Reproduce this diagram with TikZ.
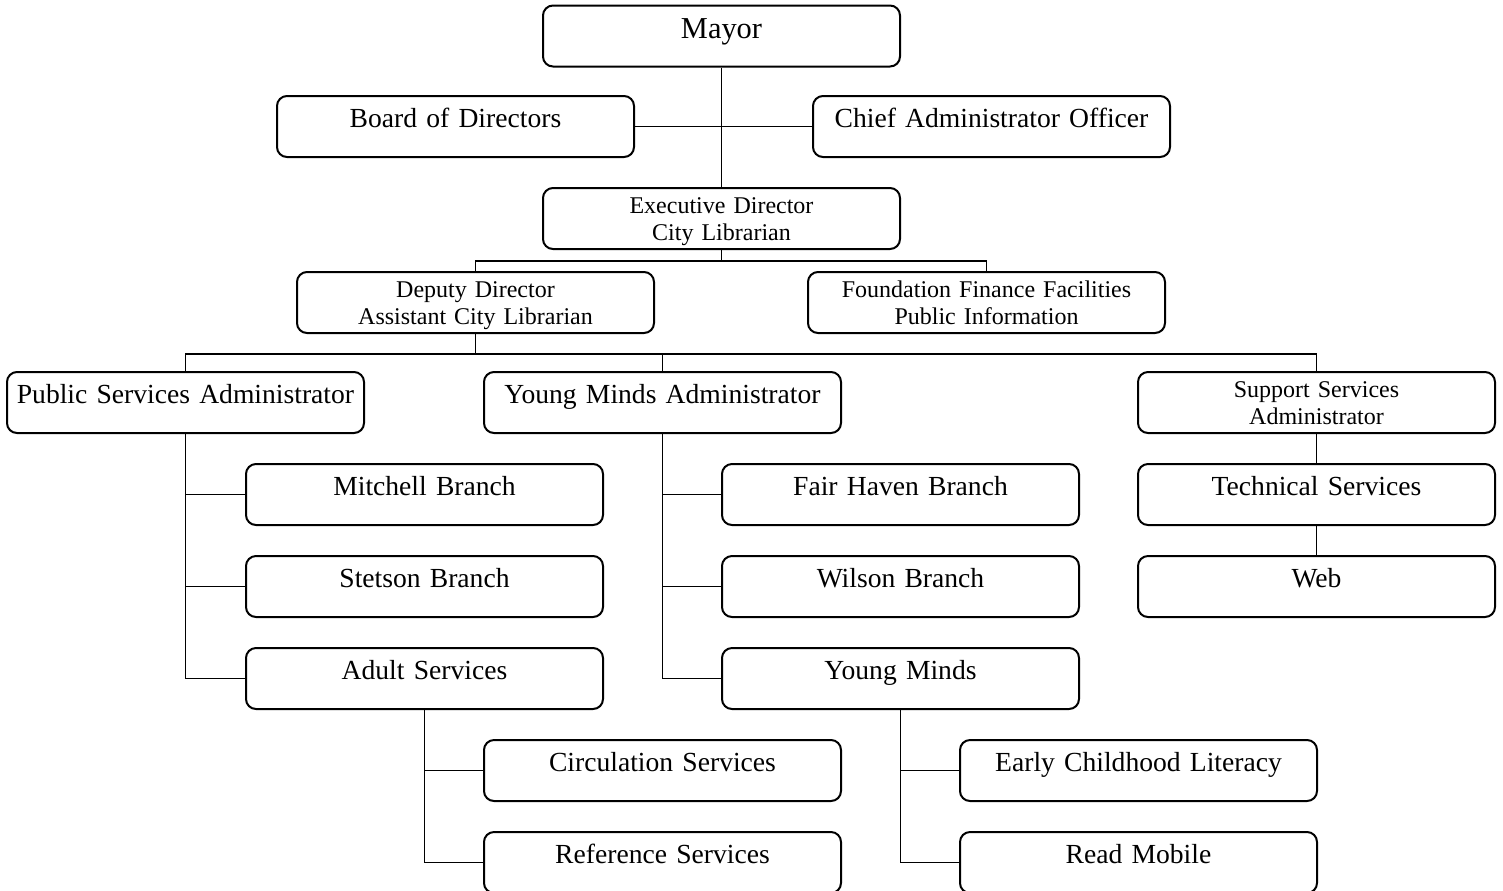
\documentclass[tikz,border=0pt]{standalone}
\usepackage{fontspec}
\setmainfont{Liberation Serif}
\tikzset{
	unit/.style={draw, line width=1pt, rounded corners=5pt, inner sep=0pt,
		text width=178.5pt, align=center, text height=15.5pt, text depth=15pt,
		font=\fontsize{13.8}{16}\selectfont},
	unitsmall/.style={unit, text height=12.5pt, text depth=18pt,
		font=\fontsize{12}{13.5}\selectfont},
	link/.style={line width=0.75pt}
}
\begin{document}
\begin{tikzpicture}[x=0.5pt,y=-0.5pt]
		\useasboundingbox (0,0) rectangle (1503,890);
		% top of the chart
		\node[unit, text height=16.5pt, text depth=14pt, font=\fontsize{15.2}{17}\selectfont] (mayor) at (721.5,36) {Mayor};
		\node[unit] (board) at (455.5,126.5) {Board of Directors};
		\node[unit] (chief) at (991.5,126.5) {Chief Administrator Officer};
		\node[unitsmall] (exec) at (721.5,218.5) {Executive Director\\City Librarian};
		\node[unitsmall] (deputy) at (475.5,302.5) {Deputy Director\\Assistant City Librarian};
		\node[unitsmall] (found) at (986.5,302.5) {Foundation Finance Facilities\\Public Information};
		% administrators
		\node[unit] (public) at (185.5,402.5) {Public Services Administrator};
		\node[unit] (ymadmin) at (662.5,402.5) {Young Minds Administrator};
		\node[unitsmall] (support) at (1316.5,402.5) {Support Services\\Administrator};
		% branches and services
		\node[unit] (mitchell) at (424.5,494.5) {Mitchell Branch};
		\node[unit] (stetson) at (424.5,586.5) {Stetson Branch};
		\node[unit] (adult) at (424.5,678.5) {Adult Services};
		\node[unit] (fairhaven) at (900.5,494.5) {Fair Haven Branch};
		\node[unit] (wilson) at (900.5,586.5) {Wilson Branch};
		\node[unit] (youngminds) at (900.5,678.5) {Young Minds};
		\node[unit] (technical) at (1316.5,494.5) {Technical Services};
		\node[unit] (web) at (1316.5,586.5) {Web};
		\node[unit] (circulation) at (662.5,770.5) {Circulation Services};
		\node[unit] (reference) at (662.5,862.5) {Reference Services};
		\node[unit] (early) at (1138.5,770.5) {Early Childhood Literacy};
		\node[unit] (readmobile) at (1138.5,862.5) {Read Mobile};
		% connectors
		\draw[link] (mayor) -- (exec);
		\draw[link] (board) -- (chief);
		\draw[link] (exec.south) -- +(0,11) coordinate (j1);
		\draw[link] (deputy.north) |- (j1) -| (found.north);
		\draw[link] (deputy.south) -- +(0,20) coordinate (j2);
		\draw[link] (public.north) |- (j2) -| (support.north);
		\draw[link] (ymadmin.north) -- (ymadmin.north |- j2);
		\foreach \boss/\sub in {public/mitchell, public/stetson, public/adult,
			ymadmin/fairhaven, ymadmin/wilson, ymadmin/youngminds,
			adult/circulation, adult/reference, youngminds/early, youngminds/readmobile}
			\draw[link] (\boss.south) |- (\sub.west);
		\draw[link] (support) -- (technical) -- (web);
	\end{tikzpicture}
\end{document}
